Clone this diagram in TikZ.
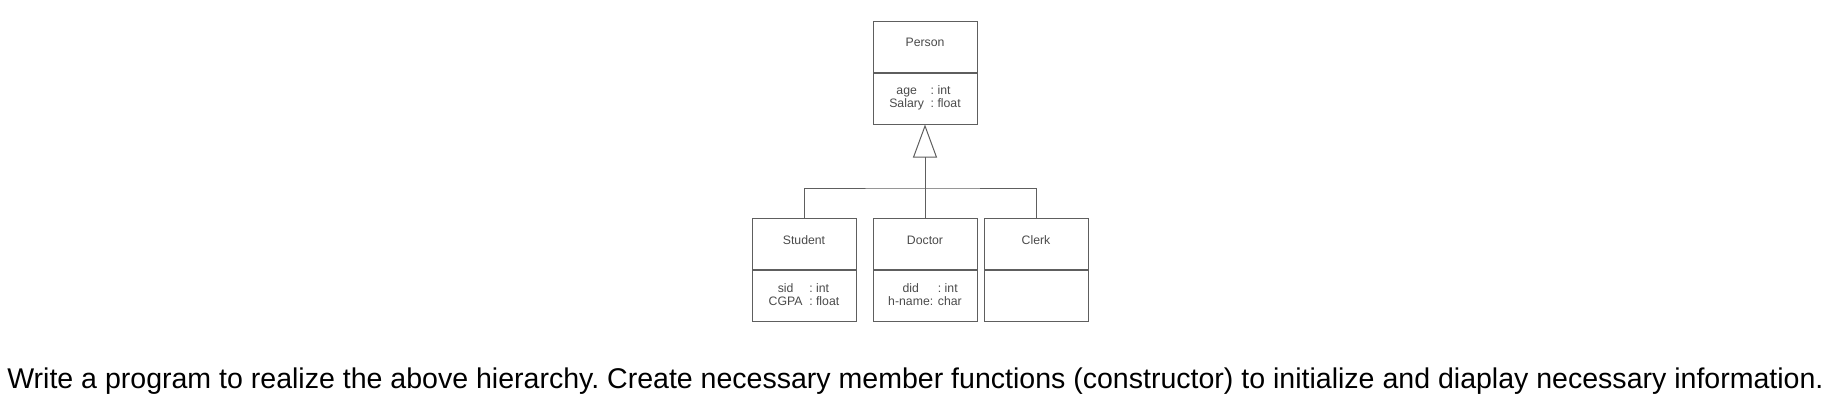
\documentclass[tikz,border=0pt]{standalone}
\usepackage{fontspec}
\setmainfont{Liberation Sans}
\usepackage{xcolor}
\usetikzlibrary{positioning,arrows.meta}
\definecolor{umlline}{HTML}{5E5E5E}
\definecolor{umltext}{HTML}{4A4A4A}
\frenchspacing

\begin{document}
\begin{tikzpicture}[x=0.75pt,y=-0.75pt,
    cls/.style={draw=umlline, line width=0.75pt, minimum width=78pt, minimum height=38.25pt,
        inner sep=0pt, text=umltext, font=\fontsize{9.2}{10}\selectfont},
    clsname/.style={cls, text height=6pt, text depth=6pt},
    link/.style={draw=umlline, line width=0.75pt}]
    \useasboundingbox (0,0) rectangle (1835,407);

    % base class
    \node[clsname] (personname) at (925,46.5) {Person};
    \node[cls, below=0pt of personname] (personattr)
        {\begin{tabular}{@{}c@{\hspace{5pt}}l@{}}age & : int\\ Salary & : float\end{tabular}};

    % derived classes
    \node[clsname] (doctorname) at (925,244) {Doctor};
    \node[cls, below=0pt of doctorname] (doctorattr)
        {\begin{tabular}{@{}c@{\hspace{3.5pt}}l@{}}did & : int\\ h-name: & char\end{tabular}};
    \node[clsname, left=12pt of doctorname] (studentname) {Student};
    \node[cls, below=0pt of studentname] (studentattr)
        {\begin{tabular}{@{}c@{\hspace{5pt}}l@{}}sid & : int\\ CGPA & : float\end{tabular}};
    \node[clsname, right=4.5pt of doctorname] (clerkname) {Clerk};
    \node[cls, below=0pt of clerkname] (clerkattr) {};

    % inheritance
    \coordinate (fork) at (925,188);
    \draw[link, -{Triangle[open, length=24.75pt, width=18pt]}] (fork) -- (personattr.south);
    \draw[link] (studentname.north) |- (fork) -| (clerkname.north);
    \draw[link] (doctorname.north) -- (fork);

    \node[anchor=base west, inner sep=0pt, font=\fontsize{21.4}{25}\selectfont] (task) at (7,388)
        {Write a program to realize the above hierarchy. Create necessary member functions (constructor) to initialize and diaplay necessary information.};
\end{tikzpicture}
\end{document}
